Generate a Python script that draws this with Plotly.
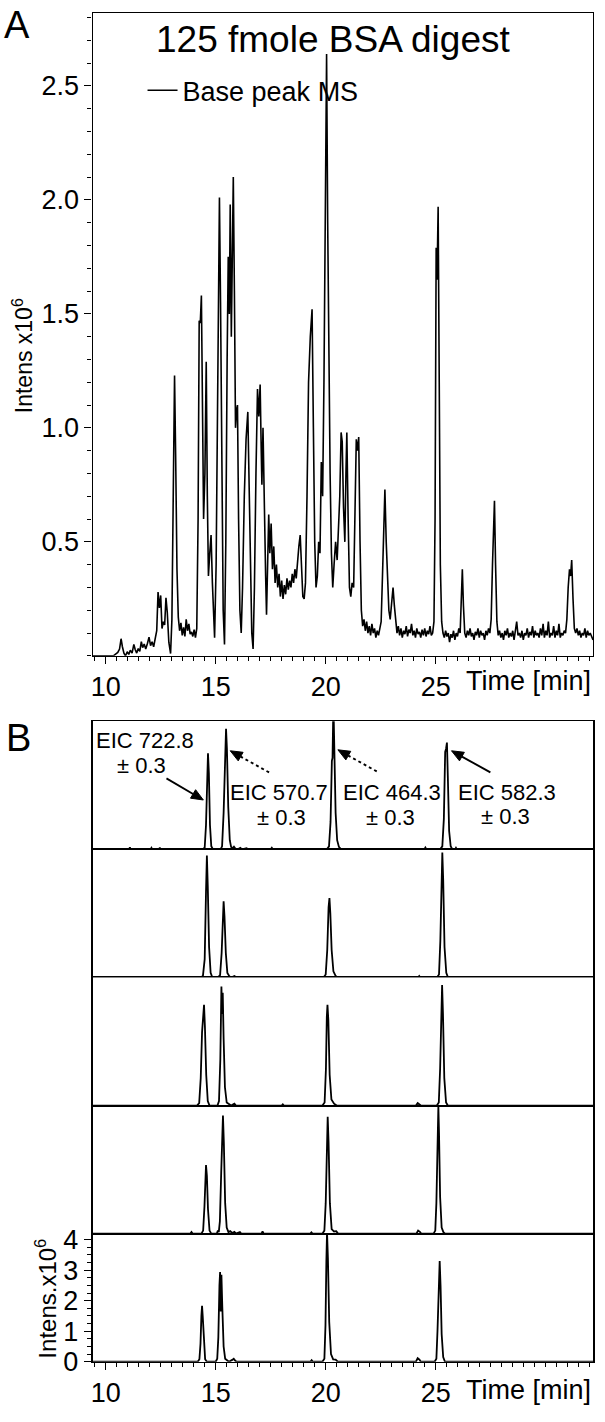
import plotly.graph_objects as go

W, H = 605, 1422
FONT = "Liberation Sans, Arial, sans-serif"

# ---------------- data ----------------
X_RANGE = [9.41, 32.15]
X_LABEL_TICKS = [10, 15, 20, 25]              # labelled major ticks
X_LONG_TICKS = [12.5, 17.5, 22.5, 27.5, 30]   # unlabelled long ticks

TOP_Y_RANGE = [0, 2.82]
TOP_Y_TICKVALS = [0.5, 1.0, 1.5, 2.0, 2.5]
TOP_Y_TICKTEXT = ["0.5", "1.0", "1.5", "2.0", "2.5"]

EIC_Y_RANGE = [0, 4.2]
EIC_Y_TICKVALS = [0, 1, 2, 3, 4]

# Base peak chromatogram: (time [min], intensity x10^6)
BPC = [
    (9.40, 0.000), (10.35, 0.000), (10.45, 0.008), (10.55, 0.015), (10.63, 0.030),
    (10.70, 0.075), (10.76, 0.040), (10.83, 0.012), (10.90, 0.000), (10.98, 0.018),
    (11.05, 0.006), (11.12, 0.025), (11.20, 0.012), (11.28, 0.050), (11.34, 0.028),
    (11.41, 0.012), (11.48, 0.032), (11.55, 0.020), (11.62, 0.062), (11.68, 0.036),
    (11.75, 0.052), (11.82, 0.030), (11.90, 0.055), (11.97, 0.082), (12.04, 0.045),
    (12.11, 0.062), (12.18, 0.040), (12.25, 0.075), (12.32, 0.110), (12.38, 0.280),
    (12.44, 0.210), (12.50, 0.265), (12.56, 0.120), (12.62, 0.150), (12.68, 0.135),
    (12.74, 0.255), (12.80, 0.190), (12.87, 0.060), (12.95, 0.010), (13.01, 0.160),
    (13.07, 0.700), (13.13, 1.230), (13.18, 0.880), (13.24, 0.380), (13.30, 0.170),
    (13.36, 0.110), (13.42, 0.145), (13.48, 0.090), (13.54, 0.125), (13.60, 0.085),
    (13.66, 0.160), (13.72, 0.110), (13.78, 0.140), (13.84, 0.095), (13.90, 0.105),
    (13.96, 0.085), (14.02, 0.115), (14.08, 0.080), (14.14, 0.120), (14.20, 0.600),
    (14.25, 1.470), (14.30, 1.460), (14.35, 1.580), (14.40, 1.000), (14.45, 0.600),
    (14.51, 0.800), (14.57, 1.290), (14.62, 0.700), (14.67, 0.350), (14.73, 0.450),
    (14.79, 0.530), (14.85, 0.320), (14.91, 0.120), (14.95, 0.080), (15.02, 0.400),
    (15.08, 1.200), (15.13, 1.600), (15.17, 2.010), (15.22, 1.550), (15.28, 0.700),
    (15.34, 0.200), (15.40, 0.050), (15.46, 0.500), (15.52, 1.300), (15.57, 1.750),
    (15.62, 1.500), (15.66, 1.980), (15.71, 1.400), (15.76, 1.700), (15.80, 2.100),
    (15.85, 1.600), (15.90, 1.000), (15.95, 1.080), (15.99, 1.100), (16.04, 0.600),
    (16.10, 0.200), (16.16, 0.100), (16.22, 0.300), (16.30, 0.700), (16.38, 0.950),
    (16.46, 1.070), (16.52, 0.750), (16.58, 0.350), (16.64, 0.100), (16.70, 0.030),
    (16.76, 0.300), (16.83, 0.800), (16.90, 1.170), (16.96, 1.050), (17.02, 1.190),
    (17.07, 0.900), (17.10, 0.750), (17.15, 1.000), (17.21, 0.550), (17.27, 0.350),
    (17.31, 0.180), (17.36, 0.400), (17.41, 0.620), (17.46, 0.450), (17.52, 0.580),
    (17.58, 0.380), (17.64, 0.480), (17.70, 0.320), (17.76, 0.400), (17.82, 0.300),
    (17.88, 0.360), (17.94, 0.260), (18.00, 0.330), (18.06, 0.250), (18.12, 0.310),
    (18.18, 0.270), (18.24, 0.340), (18.30, 0.290), (18.36, 0.330), (18.42, 0.300),
    (18.48, 0.360), (18.54, 0.320), (18.60, 0.380), (18.66, 0.340), (18.72, 0.420),
    (18.78, 0.480), (18.84, 0.530), (18.90, 0.380), (18.96, 0.260), (19.02, 0.250),
    (19.08, 0.320), (19.15, 0.700), (19.22, 1.200), (19.30, 1.400), (19.38, 1.520),
    (19.44, 1.000), (19.50, 0.500), (19.56, 0.300), (19.62, 0.350), (19.68, 0.500),
    (19.74, 0.450), (19.80, 0.850), (19.86, 0.700), (19.92, 1.200), (19.98, 2.000),
    (20.04, 2.640), (20.09, 1.900), (20.14, 1.200), (20.20, 0.800), (20.26, 0.450),
    (20.32, 0.300), (20.38, 0.400), (20.45, 0.500), (20.52, 0.420), (20.58, 0.550),
    (20.64, 0.700), (20.70, 0.980), (20.75, 0.940), (20.81, 0.650), (20.87, 0.500),
    (20.92, 0.800), (20.96, 0.980), (21.02, 0.600), (21.08, 0.300), (21.14, 0.260),
    (21.20, 0.320), (21.27, 0.300), (21.33, 0.650), (21.39, 0.950), (21.45, 0.900),
    (21.50, 0.960), (21.56, 0.500), (21.62, 0.200), (21.68, 0.130), (21.74, 0.160),
    (21.80, 0.110), (21.86, 0.150), (21.92, 0.100), (21.98, 0.130), (22.04, 0.090),
    (22.10, 0.140), (22.16, 0.100), (22.22, 0.120), (22.28, 0.080), (22.34, 0.110),
    (22.40, 0.090), (22.46, 0.130), (22.52, 0.150), (22.58, 0.350), (22.64, 0.600),
    (22.69, 0.730), (22.75, 0.500), (22.81, 0.300), (22.87, 0.200), (22.93, 0.160),
    (23.00, 0.250), (23.06, 0.300), (23.12, 0.220), (23.18, 0.150), (23.24, 0.100),
    (23.30, 0.130), (23.36, 0.090), (23.42, 0.120), (23.48, 0.080), (23.54, 0.110),
    (23.60, 0.095), (23.66, 0.130), (23.72, 0.085), (23.78, 0.115), (23.84, 0.100),
    (23.90, 0.140), (23.96, 0.090), (24.02, 0.110), (24.08, 0.080), (24.14, 0.120),
    (24.20, 0.095), (24.26, 0.105), (24.32, 0.080), (24.38, 0.115), (24.44, 0.090),
    (24.50, 0.120), (24.56, 0.085), (24.62, 0.110), (24.68, 0.095), (24.74, 0.130),
    (24.80, 0.090), (24.86, 0.100), (24.92, 0.150), (24.97, 0.600), (25.02, 1.790),
    (25.06, 1.650), (25.11, 1.970), (25.16, 1.200), (25.21, 0.400), (25.27, 0.150),
    (25.33, 0.100), (25.39, 0.080), (25.45, 0.110), (25.51, 0.085), (25.57, 0.100),
    (25.63, 0.060), (25.69, 0.095), (25.75, 0.080), (25.81, 0.110), (25.87, 0.070),
    (25.93, 0.100), (25.99, 0.085), (26.05, 0.120), (26.11, 0.100), (26.16, 0.250),
    (26.21, 0.380), (26.26, 0.220), (26.32, 0.100), (26.38, 0.080), (26.44, 0.110),
    (26.50, 0.090), (26.56, 0.120), (26.62, 0.085), (26.68, 0.100), (26.74, 0.070),
    (26.80, 0.105), (26.86, 0.090), (26.92, 0.120), (26.98, 0.080), (27.04, 0.110),
    (27.10, 0.090), (27.16, 0.100), (27.22, 0.070), (27.28, 0.110), (27.34, 0.090),
    (27.40, 0.120), (27.46, 0.100), (27.52, 0.160), (27.58, 0.400), (27.63, 0.550),
    (27.67, 0.680), (27.72, 0.400), (27.78, 0.150), (27.84, 0.090), (27.90, 0.110),
    (27.96, 0.080), (28.02, 0.100), (28.08, 0.070), (28.14, 0.110), (28.20, 0.090),
    (28.26, 0.120), (28.32, 0.080), (28.38, 0.100), (28.44, 0.085), (28.50, 0.110),
    (28.56, 0.070), (28.62, 0.120), (28.68, 0.150), (28.74, 0.090), (28.80, 0.100),
    (28.86, 0.080), (28.92, 0.110), (28.98, 0.070), (29.04, 0.100), (29.10, 0.090),
    (29.16, 0.120), (29.22, 0.080), (29.28, 0.105), (29.34, 0.090), (29.40, 0.130),
    (29.46, 0.080), (29.52, 0.110), (29.58, 0.090), (29.64, 0.100), (29.70, 0.080),
    (29.76, 0.120), (29.82, 0.090), (29.88, 0.140), (29.94, 0.080), (30.00, 0.110),
    (30.06, 0.090), (30.12, 0.150), (30.18, 0.080), (30.24, 0.100), (30.30, 0.090),
    (30.36, 0.130), (30.42, 0.080), (30.48, 0.110), (30.54, 0.090), (30.60, 0.140),
    (30.66, 0.080), (30.72, 0.100), (30.78, 0.090), (30.84, 0.110), (30.90, 0.100),
    (30.96, 0.160), (31.02, 0.300), (31.08, 0.380), (31.13, 0.350), (31.18, 0.420),
    (31.24, 0.250), (31.30, 0.120), (31.36, 0.100), (31.42, 0.120), (31.48, 0.090),
    (31.54, 0.110), (31.60, 0.080), (31.66, 0.100), (31.72, 0.090), (31.78, 0.120),
    (31.84, 0.080), (31.90, 0.110), (31.96, 0.090), (32.02, 0.100), (32.15, 0.070),
]

# Extracted ion chromatograms, five runs: (time [min], intensity x10^6)
EIC_RUN1 = [
    (9.41, 0), (11.06, 0), (11.10, 0.07), (11.14, 0), (12.04, 0), (12.08, 0.05), (12.12, 0),
    (12.42, 0), (12.46, 0.06), (12.50, 0),
    (14.40, 0), (14.50, 0.05), (14.56, 0.8), (14.61, 2.6), (14.65, 3.15), (14.69, 2.5),
    (14.74, 0.8), (14.80, 0.1), (14.88, 0),
    (15.22, 0), (15.29, 0.1), (15.36, 1.2), (15.42, 3.2), (15.47, 3.95), (15.51, 3.3),
    (15.57, 1.4), (15.64, 0.3), (15.70, 0.08), (15.76, 0.03), (15.83, 0.09), (15.90, 0.02),
    (16.00, 0), (16.12, 0.05), (16.20, 0), (16.40, 0.04), (16.48, 0),
    (17.50, 0), (17.55, 0.05), (17.60, 0),
    (20.05, 0), (20.15, 0.1), (20.22, 0.9), (20.28, 2.9), (20.31, 3.0), (20.35, 4.8),
    (20.39, 3.2), (20.45, 1.2), (20.52, 0.3), (20.60, 0.08), (20.70, 0),
    (24.48, 0), (24.53, 0.06), (24.58, 0),
    (25.20, 0), (25.30, 0.1), (25.37, 1.0), (25.43, 3.2), (25.47, 3.3), (25.51, 3.5),
    (25.55, 2.4), (25.61, 0.6), (25.68, 0.1), (25.76, 0),
    (25.88, 0), (25.92, 0.05), (25.96, 0), (32.15, 0),
]
EIC_RUN2 = [
    (9.41, 0), (14.30, 0), (14.42, 0.05), (14.50, 0.6), (14.56, 2.8), (14.60, 4.0),
    (14.64, 3.0), (14.70, 1.0), (14.77, 0.15), (14.85, 0),
    (15.10, 0), (15.20, 0.08), (15.27, 0.8), (15.32, 2.3), (15.36, 2.5), (15.40, 2.0),
    (15.46, 0.8), (15.53, 0.15), (15.62, 0.04), (15.70, 0), (15.85, 0.05), (15.95, 0),
    (19.90, 0), (20.00, 0.1), (20.07, 0.9), (20.13, 2.3), (20.17, 2.6), (20.21, 2.1),
    (20.27, 0.9), (20.35, 0.2), (20.45, 0.05), (20.55, 0),
    (24.20, 0), (24.25, 0.05), (24.30, 0),
    (25.05, 0), (25.15, 0.1), (25.21, 1.2), (25.26, 3.5), (25.30, 4.1), (25.34, 3.2),
    (25.40, 1.0), (25.48, 0.15), (25.56, 0), (32.15, 0),
]
EIC_RUN3 = [
    (9.41, 0), (14.15, 0), (14.25, 0.08), (14.32, 0.9), (14.38, 2.4), (14.43, 3.2),
    (14.47, 3.3), (14.51, 2.6), (14.57, 1.0), (14.64, 0.15), (14.72, 0),
    (15.08, 0), (15.15, 0.15), (15.21, 1.5), (15.26, 3.9), (15.29, 3.0), (15.32, 3.7),
    (15.36, 2.2), (15.42, 0.6), (15.50, 0.1), (15.60, 0.05), (15.70, 0), (15.85, 0.06),
    (15.92, 0), (18.00, 0), (18.05, 0.04), (18.10, 0),
    (19.85, 0), (19.95, 0.1), (20.01, 1.2), (20.05, 2.9), (20.08, 3.3), (20.12, 2.8),
    (20.18, 1.0), (20.26, 0.2), (20.38, 0.06), (20.50, 0),
    (24.10, 0), (24.18, 0.08), (24.26, 0.05), (24.32, 0),
    (25.05, 0), (25.14, 0.1), (25.20, 1.2), (25.25, 3.4), (25.29, 3.95), (25.33, 3.0),
    (25.39, 0.9), (25.47, 0.1), (25.55, 0), (32.15, 0),
]
EIC_RUN4 = [
    (9.41, 0), (13.85, 0), (13.90, 0.05), (13.95, 0),
    (14.35, 0), (14.43, 0.1), (14.49, 0.9), (14.53, 1.9), (14.56, 2.25), (14.60, 1.9),
    (14.65, 0.8), (14.72, 0.1), (14.80, 0),
    (15.05, 0), (15.10, 0.1), (15.14, 0.05), (15.19, 0.4), (15.25, 2.0), (15.30, 3.6),
    (15.33, 3.87), (15.37, 3.0), (15.43, 1.0), (15.50, 0.2), (15.58, 0.05), (15.66, 0.08),
    (15.75, 0.02), (15.85, 0.06), (15.92, 0), (16.10, 0.05), (16.16, 0),
    (17.08, 0), (17.13, 0.07), (17.18, 0), (19.30, 0), (19.35, 0.04), (19.40, 0),
    (19.85, 0), (19.94, 0.1), (20.00, 1.0), (20.05, 3.0), (20.09, 3.83), (20.13, 3.0),
    (20.19, 1.0), (20.27, 0.15), (20.38, 0.07), (20.48, 0.08), (20.56, 0),
    (24.12, 0), (24.20, 0.1), (24.28, 0.06), (24.34, 0),
    (24.90, 0), (24.98, 0.1), (25.03, 1.0), (25.07, 3.0), (25.10, 3.2), (25.12, 4.17),
    (25.15, 3.3), (25.20, 1.2), (25.27, 0.2), (25.35, 0.05), (25.42, 0), (32.15, 0),
]
EIC_RUN5 = [
    (9.41, 0), (14.18, 0), (14.26, 0.08), (14.31, 0.6), (14.35, 1.5), (14.38, 1.83),
    (14.41, 1.5), (14.46, 0.6), (14.52, 0.08), (14.60, 0),
    (15.00, 0), (15.07, 0.1), (15.12, 0.8), (15.17, 2.5), (15.20, 2.94), (15.23, 1.65),
    (15.26, 2.85), (15.30, 1.8), (15.36, 0.5), (15.43, 0.1), (15.52, 0.04), (15.60, 0),
    (15.75, 0.06), (15.82, 0.1), (15.88, 0.04), (15.95, 0),
    (19.30, 0), (19.36, 0.05), (19.42, 0),
    (19.85, 0), (19.94, 0.1), (19.99, 1.2), (20.03, 3.3), (20.06, 4.25), (20.10, 3.4),
    (20.16, 1.3), (20.24, 0.25), (20.34, 0.08), (20.45, 0.07), (20.55, 0),
    (24.10, 0), (24.18, 0.12), (24.26, 0.07), (24.32, 0),
    (24.95, 0), (25.03, 0.1), (25.08, 1.0), (25.12, 2.2), (25.15, 2.3), (25.18, 3.3),
    (25.22, 2.5), (25.27, 0.9), (25.34, 0.15), (25.42, 0), (32.15, 0),
]
EIC_RUNS = [EIC_RUN1, EIC_RUN2, EIC_RUN3, EIC_RUN4, EIC_RUN5]

EIC_LABELS = ["EIC 722.8", "EIC 570.7", "EIC 464.3", "EIC 582.3"]

# ---------------- layout helpers ----------------
def px_x(x):
    return x / W

def px_y(y):
    return 1 - y / H

PLOT_L, PLOT_R = 91, 593
TOP_T, TOP_B = 5, 658.5
EIC_T, EIC_B = 725, 1376
N = len(EIC_RUNS)
PH = (EIC_B - EIC_T) / N
XDOM = [px_x(PLOT_L), px_x(PLOT_R)]

fig = go.Figure()

fig.add_trace(go.Scatter(
    x=[p[0] for p in BPC], y=[p[1] for p in BPC], mode="lines",
    line=dict(color="black", width=1.6), name="Base peak MS",
    xaxis="x", yaxis="y", showlegend=True,
))

for k, run in enumerate(EIC_RUNS):
    fig.add_trace(go.Scatter(
        x=[p[0] for p in run], y=[p[1] for p in run], mode="lines",
        line=dict(color="black", width=1.8), showlegend=False,
        xaxis=f"x{k + 2}", yaxis=f"y{k + 2}",
    ))

tickfont = dict(family=FONT, size=27, color="black")

def xaxis_def(show_ticks, anchor_y):
    d = dict(
        domain=XDOM, range=X_RANGE, anchor=anchor_y,
        showline=True, linecolor="black", linewidth=1.4, mirror=True,
        showgrid=False, zeroline=False,
    )
    if show_ticks:
        d.update(
            tickmode="array", tickvals=X_LABEL_TICKS,
            ticks="outside", ticklen=7, tickwidth=1.2, tickcolor="black",
            tickfont=tickfont,
            minor=dict(ticks="outside", tickmode="linear", tick0=0, dtick=0.5,
                       ticklen=4, tickwidth=1, tickcolor="black"),
        )
    else:
        d.update(ticks="", showticklabels=False)
    return d

def long_tick_axis(over, anchor_y):
    # overlaying axis that only adds the unlabelled long ticks
    return dict(
        domain=XDOM, range=X_RANGE, anchor=anchor_y, overlaying=over,
        showline=False, showgrid=False, zeroline=False, showticklabels=False,
        tickmode="array", tickvals=X_LONG_TICKS,
        ticks="outside", ticklen=7, tickwidth=1.2, tickcolor="black",
    )

layout = dict(
    width=W, height=H, margin=dict(l=0, r=0, t=0, b=0),
    paper_bgcolor="white", plot_bgcolor="white",
    font=dict(family=FONT, color="black"),
    showlegend=True,
    legend=dict(x=px_x(141), y=px_y(84), xanchor="left", yanchor="middle",
                bgcolor="rgba(0,0,0,0)", borderwidth=0, itemwidth=30,
                font=dict(family=FONT, size=27, color="black")),
)

layout["xaxis"] = xaxis_def(True, "y")
layout["xaxis7"] = long_tick_axis("x", "y")
layout["yaxis"] = dict(
    domain=[px_y(TOP_B), px_y(TOP_T)], range=TOP_Y_RANGE, anchor="x",
    showline=True, linecolor="black", linewidth=1.4, mirror=True,
    showgrid=False, zeroline=False,
    tickmode="array", tickvals=TOP_Y_TICKVALS, ticktext=TOP_Y_TICKTEXT,
    ticks="outside", ticklen=7, tickwidth=1.2, tickcolor="black", tickfont=tickfont,
    minor=dict(ticks="outside", tickmode="linear", tick0=0, dtick=0.1,
               ticklen=4, tickwidth=1, tickcolor="black"),
)

for k in range(N):
    top = EIC_T + k * PH
    bot = top + PH
    last = (k == N - 1)
    layout[f"xaxis{k + 2}"] = xaxis_def(last, f"y{k + 2}")
    yd = dict(
        domain=[px_y(bot), px_y(top)], range=EIC_Y_RANGE, anchor=f"x{k + 2}",
        showline=True, linecolor="black", linewidth=1.8, mirror=True,
        showgrid=False, zeroline=False,
    )
    if last:
        yd.update(
            tickmode="array", tickvals=EIC_Y_TICKVALS,
            ticks="outside", ticklen=7, tickwidth=1.2, tickcolor="black",
            tickfont=dict(family=FONT, size=27, color="black"),
            minor=dict(ticks="outside", tickmode="linear", tick0=0, dtick=0.25,
                       ticklen=4, tickwidth=1, tickcolor="black"),
        )
    else:
        yd.update(ticks="", showticklabels=False)
    layout[f"yaxis{k + 2}"] = yd

layout["xaxis8"] = long_tick_axis("x6", "y6")

fig.update_layout(**layout)

# ---------------- text annotations ----------------
def txt(text, x, y, size, xanchor="center", yanchor="middle", angle=0):
    fig.add_annotation(text=text, x=px_x(x), y=px_y(y), xref="paper", yref="paper",
                       showarrow=False, xanchor=xanchor, yanchor=yanchor,
                       textangle=angle, font=dict(family=FONT, size=size, color="black"))

txt("A", 15, 17, 38)
txt("B", 17, 742, 38)
txt("125 fmole BSA digest", 332, 32, 37)
txt("Time [min]", 593, 684, 27, xanchor="right")
txt("Time [min]", 593, 1405, 27, xanchor="right")
txt("Intens x10<sup>6</sup>", 21, 353, 23, angle=-90)
txt("Intens.x10<sup>6</sup>", 44, 1312, 24, angle=-90)

txt(EIC_LABELS[0], 143, 745, 22)
txt("± 0.3", 140, 770, 22)
txt(EIC_LABELS[1], 278, 797, 22)
txt("± 0.3", 280, 823, 22)
txt(EIC_LABELS[2], 391, 797, 22)
txt("± 0.3", 390, 823, 22)
txt(EIC_LABELS[3], 507, 797, 22)
txt("± 0.3", 505, 822, 22)

# ---------------- arrows (shaft + filled head drawn as shapes) ----------------
def arrow(head, tail, dashed=False, head_len=12.0, head_half=5.0):
    hx, hy = head
    tx, ty = tail
    dx, dy = hx - tx, hy - ty
    L = (dx * dx + dy * dy) ** 0.5
    ux, uy = dx / L, dy / L
    bx, by = hx - ux * head_len, hy - uy * head_len
    nx, ny = -uy, ux
    fig.add_shape(type="line", xref="paper", yref="paper",
                  x0=px_x(tx), y0=px_y(ty), x1=px_x(bx), y1=px_y(by),
                  line=dict(color="black", width=1.9,
                            dash="3px,3px" if dashed else "solid"))
    p1 = (bx + nx * head_half, by + ny * head_half)
    p2 = (bx - nx * head_half, by - ny * head_half)
    path = (f"M {px_x(hx)},{px_y(hy)} L {px_x(p1[0])},{px_y(p1[1])} "
            f"L {px_x(p2[0])},{px_y(p2[1])} Z")
    fig.add_shape(type="path", xref="paper", yref="paper", path=path,
                  fillcolor="black", line=dict(color="black", width=1))

arrow((202, 805), (165, 783))
arrow((229, 755), (268, 777), dashed=True)
arrow((337, 754), (376, 776), dashed=True)
arrow((451, 755), (490, 777))

# the page's default body margin would shift the 605x1422 figure; remove it
fig.write_html("out.html",
               config={"displayModeBar": False},
               post_script="document.body.style.margin='0px';document.body.style.overflow='hidden';")
